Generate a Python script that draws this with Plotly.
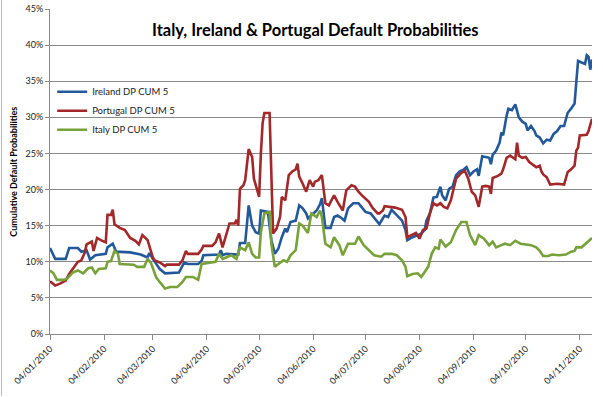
import plotly.graph_objects as go

# ---------------- data (values in %) ----------------
ireland_dates = ["2010-01-04","2010-01-07","2010-01-13","2010-01-15","2010-01-20","2010-01-22","2010-01-25","2010-01-27","2010-01-30","2010-02-05","2010-02-06","2010-02-09","2010-02-11","2010-02-19","2010-02-25","2010-03-01","2010-03-02","2010-03-04","2010-03-08","2010-03-11","2010-03-19","2010-03-21","2010-03-22","2010-03-24","2010-03-30","2010-04-01","2010-04-02","2010-04-11","2010-04-12","2010-04-13","2010-04-15","2010-04-22","2010-04-23","2010-04-26","2010-04-27","2010-04-28","2010-04-30","2010-05-02","2010-05-04","2010-05-05","2010-05-09","2010-05-11","2010-05-13","2010-05-15","2010-05-17","2010-05-19","2010-05-20","2010-05-22","2010-05-25","2010-05-27","2010-05-29","2010-05-31","2010-06-01","2010-06-03","2010-06-06","2010-06-08","2010-06-09","2010-06-11","2010-06-14","2010-06-16","2010-06-18","2010-06-20","2010-06-22","2010-06-24","2010-06-27","2010-06-30","2010-07-02","2010-07-04","2010-07-07","2010-07-10","2010-07-12","2010-07-14","2010-07-15","2010-07-17","2010-07-19","2010-07-21","2010-07-23","2010-07-25","2010-07-27","2010-07-28","2010-07-31","2010-08-03","2010-08-05","2010-08-07","2010-08-08","2010-08-10","2010-08-12","2010-08-14","2010-08-16","2010-08-17","2010-08-19","2010-08-21","2010-08-23","2010-08-25","2010-08-27","2010-08-29","2010-08-31","2010-09-02","2010-09-04","2010-09-06","2010-09-07","2010-09-09","2010-09-11","2010-09-13","2010-09-14","2010-09-15","2010-09-17","2010-09-19","2010-09-20","2010-09-21","2010-09-23","2010-09-24","2010-09-26","2010-09-28","2010-09-30","2010-10-02","2010-10-04","2010-10-05","2010-10-07","2010-10-09","2010-10-10","2010-10-12","2010-10-14","2010-10-16","2010-10-18","2010-10-20","2010-10-22","2010-10-24","2010-10-26","2010-10-28","2010-10-30","2010-11-01","2010-11-02","2010-11-03","2010-11-05","2010-11-07","2010-11-08","2010-11-09","2010-11-10","2010-11-11"]
ireland_values = [11.9,10.4,10.4,11.9,11.9,11.4,11.6,10.3,10.9,11.1,12.0,12.5,11.4,11.3,11.0,10.6,11.2,10.4,9.0,8.4,8.5,9.3,9.9,9.7,9.7,10.1,10.9,11.0,11.6,10.9,11.1,11.0,12.6,12.6,15.5,17.8,15.0,14.1,13.9,17.1,16.9,13.0,11.1,11.8,13.4,14.6,14.1,15.5,15.7,17.8,17.4,16.7,16.0,16.4,17.1,18.0,18.8,14.7,14.7,16.2,16.4,16.1,15.7,17.4,18.1,18.1,17.5,16.9,16.7,15.8,15.2,16.0,16.4,16.2,17.2,16.7,16.2,15.7,14.4,13.0,13.4,13.7,13.9,14.4,15.7,16.7,18.9,19.0,20.4,19.2,18.5,20.1,20.4,22.0,22.5,22.7,23.1,22.0,22.5,22.8,21.9,24.6,24.5,24.4,23.5,24.8,25.4,26.5,27.9,27.5,30.2,31.2,31.0,31.8,30.0,29.4,29.1,28.2,28.8,28.1,27.5,27.2,26.4,26.9,26.8,27.7,28.1,28.8,28.8,30.6,31.2,31.9,34.9,37.8,37.6,37.4,38.6,38.4,36.6,38.0]

portugal_dates = ["2010-01-04","2010-01-07","2010-01-10","2010-01-13","2010-01-15","2010-01-18","2010-01-20","2010-01-22","2010-01-24","2010-01-25","2010-01-28","2010-01-29","2010-01-31","2010-02-03","2010-02-05","2010-02-06","2010-02-08","2010-02-09","2010-02-10","2010-02-13","2010-02-16","2010-02-19","2010-02-22","2010-02-24","2010-02-26","2010-03-01","2010-03-02","2010-03-04","2010-03-05","2010-03-08","2010-03-11","2010-03-12","2010-03-19","2010-03-21","2010-03-23","2010-03-24","2010-03-30","2010-04-01","2010-04-02","2010-04-07","2010-04-09","2010-04-11","2010-04-13","2010-04-16","2010-04-17","2010-04-20","2010-04-21","2010-04-22","2010-04-23","2010-04-25","2010-04-26","2010-04-28","2010-04-30","2010-05-01","2010-05-03","2010-05-04","2010-05-05","2010-05-06","2010-05-07","2010-05-10","2010-05-12","2010-05-14","2010-05-16","2010-05-17","2010-05-19","2010-05-21","2010-05-23","2010-05-25","2010-05-26","2010-05-27","2010-05-29","2010-05-31","2010-06-02","2010-06-04","2010-06-05","2010-06-07","2010-06-09","2010-06-11","2010-06-13","2010-06-16","2010-06-18","2010-06-20","2010-06-21","2010-06-23","2010-06-26","2010-06-28","2010-06-30","2010-07-02","2010-07-04","2010-07-06","2010-07-08","2010-07-11","2010-07-12","2010-07-14","2010-07-15","2010-07-21","2010-07-25","2010-07-27","2010-07-28","2010-07-31","2010-08-02","2010-08-04","2010-08-06","2010-08-08","2010-08-10","2010-08-12","2010-08-14","2010-08-16","2010-08-18","2010-08-20","2010-08-22","2010-08-25","2010-08-28","2010-08-30","2010-09-01","2010-09-03","2010-09-05","2010-09-07","2010-09-09","2010-09-11","2010-09-13","2010-09-14","2010-09-15","2010-09-18","2010-09-20","2010-09-21","2010-09-23","2010-09-25","2010-09-28","2010-09-29","2010-09-30","2010-10-02","2010-10-04","2010-10-06","2010-10-08","2010-10-10","2010-10-12","2010-10-13","2010-10-14","2010-10-16","2010-10-18","2010-10-22","2010-10-26","2010-10-28","2010-10-30","2010-11-01","2010-11-02","2010-11-03","2010-11-04","2010-11-08","2010-11-09","2010-11-11"]
portugal_values = [7.3,6.7,7.0,7.4,8.3,9.4,10.0,10.2,11.3,12.4,12.8,11.5,13.3,12.9,12.7,16.5,16.5,17.2,15.2,14.7,14.4,13.3,12.9,12.4,13.7,13.0,12.1,10.6,10.2,9.9,9.4,9.6,9.6,10.2,11.5,11.1,11.1,11.7,12.2,12.2,12.7,13.9,12.0,14.6,15.3,15.3,15.8,15.0,20.1,20.6,21.3,25.6,24.5,21.5,19.7,19.0,25.0,29.2,30.6,30.6,13.9,14.6,16.2,19.0,18.5,22.0,22.5,22.8,23.6,21.8,20.8,19.7,21.3,20.4,21.1,21.3,22.0,18.1,17.8,19.2,18.3,17.6,17.1,19.9,20.6,20.4,19.7,19.2,18.8,18.3,17.5,16.7,16.7,17.1,17.7,17.5,17.2,16.2,13.4,13.7,14.0,13.2,14.4,14.6,16.7,18.1,17.8,18.1,17.6,17.4,18.5,21.5,22.3,22.6,21.5,19.7,19.2,17.6,20.4,20.5,20.4,19.4,21.6,21.9,22.2,22.8,24.4,24.7,24.2,26.5,24.7,24.4,24.5,23.8,23.4,23.1,23.3,22.5,22.1,21.7,20.7,20.8,20.7,22.4,22.8,23.3,25.4,25.8,27.5,27.6,28.1,29.8]

italy_dates = ["2010-01-04","2010-01-06","2010-01-08","2010-01-12","2010-01-14","2010-01-17","2010-01-20","2010-01-23","2010-01-26","2010-01-28","2010-01-30","2010-02-01","2010-02-05","2010-02-06","2010-02-08","2010-02-10","2010-02-12","2010-02-13","2010-02-21","2010-02-23","2010-02-27","2010-03-01","2010-03-03","2010-03-06","2010-03-08","2010-03-11","2010-03-14","2010-03-18","2010-03-21","2010-03-23","2010-03-27","2010-03-30","2010-04-01","2010-04-09","2010-04-11","2010-04-13","2010-04-15","2010-04-18","2010-04-21","2010-04-23","2010-04-26","2010-04-28","2010-04-30","2010-05-02","2010-05-04","2010-05-05","2010-05-07","2010-05-10","2010-05-11","2010-05-13","2010-05-15","2010-05-18","2010-05-20","2010-05-22","2010-05-25","2010-05-27","2010-05-29","2010-05-31","2010-06-01","2010-06-03","2010-06-06","2010-06-08","2010-06-09","2010-06-11","2010-06-14","2010-06-16","2010-06-19","2010-06-21","2010-06-24","2010-06-28","2010-06-30","2010-07-03","2010-07-06","2010-07-09","2010-07-13","2010-07-15","2010-07-19","2010-07-22","2010-07-25","2010-07-27","2010-07-28","2010-07-31","2010-08-03","2010-08-05","2010-08-07","2010-08-09","2010-08-11","2010-08-13","2010-08-15","2010-08-16","2010-08-19","2010-08-22","2010-08-25","2010-08-28","2010-08-31","2010-09-02","2010-09-05","2010-09-07","2010-09-10","2010-09-13","2010-09-15","2010-09-17","2010-09-20","2010-09-22","2010-09-25","2010-09-28","2010-10-01","2010-10-07","2010-10-10","2010-10-12","2010-10-14","2010-10-17","2010-10-19","2010-10-23","2010-10-27","2010-10-30","2010-11-01","2010-11-02","2010-11-05","2010-11-08","2010-11-11"]
italy_values = [8.8,8.4,7.5,7.5,7.7,8.5,8.8,8.4,9.1,9.2,8.4,9.0,9.1,10.0,10.1,11.5,11.1,9.7,9.6,9.3,9.3,10.4,9.8,7.8,7.2,6.3,6.5,6.5,7.2,7.9,7.9,7.5,9.7,10.0,11.1,10.4,10.6,10.9,10.4,12.0,11.6,12.7,11.1,10.6,10.6,14.1,16.7,16.9,12.5,9.3,9.7,10.2,10.0,10.9,11.6,15.3,15.0,14.4,14.0,16.7,16.2,17.1,16.2,12.5,12.0,13.4,12.3,10.9,12.5,12.5,13.5,12.3,11.6,10.9,10.7,11.1,11.1,10.9,10.2,9.3,8.0,8.3,8.4,7.9,8.6,9.3,11.1,12.0,11.8,13.1,12.1,12.7,14.4,15.5,15.5,13.7,12.3,13.7,13.2,12.3,12.8,12.0,12.3,12.5,12.3,12.9,12.5,12.3,12.0,11.5,10.8,10.8,11.0,10.9,11.0,11.4,11.5,12.0,12.0,12.6,13.3]

series_names = ["Ireland DP CUM 5", "Portugal DP CUM 5", "Italy DP CUM 5"]
series_colors = ["#23599b", "#a3282a", "#77a139"]

y_ticks = [0, 5, 10, 15, 20, 25, 30, 35, 40, 45]
y_tick_labels = [f"{v}%" for v in y_ticks]

title_text = "Italy, Ireland & Portugal Default Probabilities"
y_title_text = "Cumulative Default Probabilities"

FONT = "Lato"

fig = go.Figure()
for i, (name, xs, ys) in enumerate([
    (series_names[0], ireland_dates, ireland_values),
    (series_names[1], portugal_dates, portugal_values),
    (series_names[2], italy_dates, italy_values),
]):
    fig.add_trace(go.Scatter(
        x=xs, y=ys, mode="lines", name=name,
        line=dict(color=series_colors[i], width=2.6),
    ))

fig.update_layout(
    width=603, height=397,
    margin=dict(l=50, r=11, t=9, b=63),
    paper_bgcolor="white", plot_bgcolor="white",
    font=dict(family=FONT, size=9, color="#222222"),
    showlegend=True,
    legend=dict(x=0.004, y=0.79, xanchor="left", yanchor="top",
                bgcolor="rgba(0,0,0,0)", font=dict(size=9.5, color="#222222"),
                tracegroupgap=0, itemwidth=30),
    xaxis=dict(
        type="date", automargin=False,
        range=["2010-01-04", "2010-11-11"],
        tick0="2010-01-04", dtick="M1", tickformat="%d/%m/%Y",
        tickangle=-45, tickfont=dict(size=9, color="#222222"),
        showgrid=False, showline=True, linecolor="#8a8a8a", linewidth=1,
        ticks="outside", ticklen=5, tickcolor="#8a8a8a",
    ),
    yaxis=dict(
        automargin=False,
        range=[0, 45], tickvals=y_ticks, ticktext=y_tick_labels,
        tickfont=dict(size=9, color="#222222"),
        showgrid=True, gridcolor="#8a8a8a", gridwidth=1.2,
        showline=True, linecolor="#8a8a8a", linewidth=1,
        ticks="outside", ticklen=4, tickcolor="#8a8a8a",
        zeroline=False,
    ),
    annotations=[
        dict(text=f"<b>{title_text}</b>", xref="paper", yref="paper",
             x=0.49, y=0.935, xanchor="center", yanchor="middle",
             showarrow=False, font=dict(family=FONT, size=16.5, color="#000000")),
        dict(text=f"<b>{y_title_text}</b>", xref="paper", yref="paper",
             x=-0.068, y=0.5, xanchor="center", yanchor="middle", textangle=-90,
             showarrow=False, font=dict(family=FONT, size=9, color="#000000")),
    ],
    shapes=[
        dict(type="line", xref="paper", yref="paper", x0=-0.0895, x1=-0.0895,
             y0=-0.19, y1=1.03, line=dict(color="#bbbbbb", width=1)),
    ],
)

fig.write_html("out.html", config={"displayModeBar": False},
               post_script="document.body.style.margin='0px';document.body.style.overflow='hidden';")
